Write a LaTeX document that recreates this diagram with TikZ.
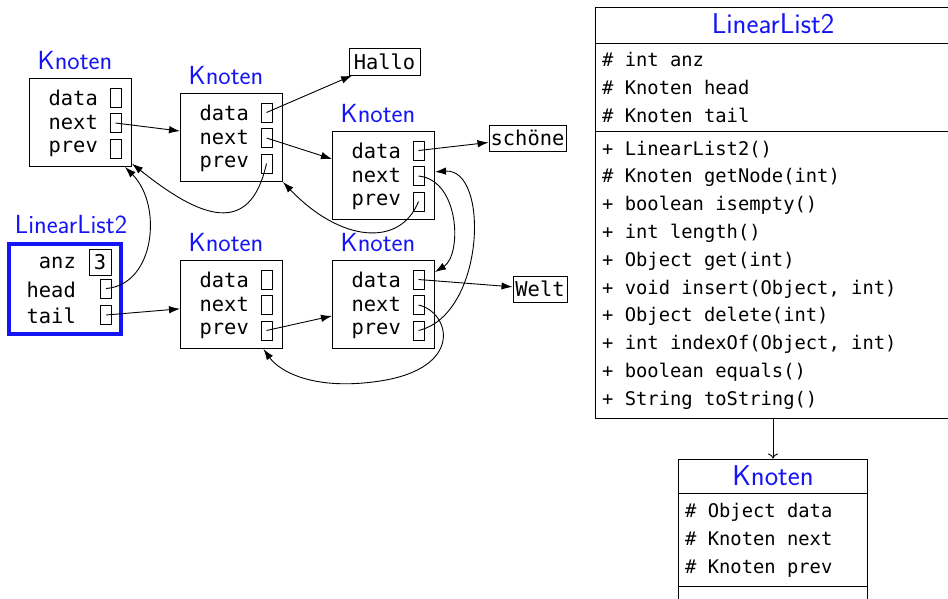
\documentclass[tikz,border=0pt]{standalone}
\usepackage{fontspec}
\newfontfamily\monofont{DejaVu Sans Mono}
\usetikzlibrary{arrows.meta}
\definecolor{titleblue}{RGB}{20,20,245}

\tikzset{
  kbox/.style={draw, line width=1pt, minimum width=102pt, minimum height=88pt, inner sep=0pt},
  ktitle/.style={anchor=base, text=titleblue, font=\fontsize{26.2}{31}\selectfont\sffamily, inner sep=0pt},
  klabel/.style={anchor=base east, font=\fontsize{20.4}{24}\selectfont\monofont, inner sep=0pt},
  slot/.style={draw, line width=0.9pt, minimum width=11pt, minimum height=19pt, inner sep=0pt},
  wordbox/.style={draw, line width=1pt, font=\fontsize{20.4}{24}\selectfont\monofont, inner sep=0pt},
  link/.style={line width=0.9pt, -{Latex[length=11pt,width=7.5pt]}},
  umlbox/.style={draw, line width=1pt, inner sep=0pt},
  umltitle/.style={anchor=base, text=titleblue, font=\fontsize{28.6}{34}\selectfont\sffamily, inner sep=0pt},
  umltext/.style={anchor=base west, font=\fontsize{18.8}{24}\selectfont\monofont, inner sep=0pt},
}

% One list node: box, caption, three fields with their slots
\newcommand\knoten[3]{%
  \begin{scope}[shift={(#2,#3)}]
    \node[kbox] (#1) at (51,44) {};
    \node[ktitle] (#1-title) at (45.5,-9.5) {Knoten};
    \node[klabel] (#1-dl) at (68.5,26.5) {data};
    \node[klabel] (#1-nl) at (68.5,51) {next};
    \node[klabel] (#1-pl) at (68.5,73.5) {prev};
    \node[slot] (#1-d) at (86,19) {};
    \node[slot] (#1-n) at (86,44.5) {};
    \node[slot] (#1-p) at (86,70) {};
  \end{scope}}

\begin{document}
\begin{tikzpicture}[x=1pt,y=-1pt]
\useasboundingbox (0,0) rectangle (948,598);
\clip (0,0) rectangle (948,598);

% list nodes
\knoten{k1}{29.5}{78.5}
\knoten{k2}{180.5}{93.5}
\knoten{k3}{332.5}{131.5}
\knoten{k4}{180.5}{260.5}
\knoten{k5}{332.5}{260.5}

% data objects
\node[wordbox, minimum width=71pt, minimum height=27pt] (hallo) at (384.5,61.5) {Hallo};
\node[wordbox, minimum width=77pt, minimum height=26pt] (schoene) at (527.5,138) {schöne};
\node[wordbox, minimum width=54pt, minimum height=26pt] (welt) at (540,289) {Welt};

% list object
\node[draw=titleblue, line width=4pt, minimum width=112pt, minimum height=90pt, inner sep=0pt] (ll) at (65.4,288.9) {};
\node[ktitle] (ll-title) at (71,233) {LinearList2};
\node[klabel] (ll-al) at (76,268) {anz};
\node[klabel] (ll-hl) at (76,297) {head};
\node[klabel] (ll-tl) at (76,323) {tail};
\node[draw, line width=1pt, minimum width=22pt, minimum height=26pt, inner sep=0pt,
      font=\fontsize{20.4}{24}\selectfont\monofont] (ll-a) at (100,262) {3};
\node[slot] (ll-h) at (106,288.5) {};
\node[slot] (ll-t) at (106,315) {};

% references
\draw[link] (k1-n.center) -- (k2);
\draw[link] (k2-d.center) -- (hallo);
\draw[link] (k2-n.center) -- (k3);
\draw[link] (k2-p.center) .. controls (250,238) and (200,218) .. (k1);
\draw[link] (k3-d.center) -- (schoene);
\draw[link] (k3-p.center) .. controls (400,248) and (340,242) .. (k2.south east);
\draw[link] (k3-n.center) .. controls (460,180) and (462,255) .. (k5);
\draw[link] (k5-p.center) .. controls (485,315) and (490,168) .. (k3);
\draw[link] (k5-d.center) -- (welt);
\coordinate (loop) at (380,381);
\draw[link] (k5-n.center) .. controls (450,312) and (465,368) .. (loop)
            .. controls (315,391) and (280,372) .. (k4);
\draw[link] (k4-p.center) -- (k5);
\draw[link] (ll-t.center) -- (k4);
\draw[link] (ll-h.center) .. controls (155,285) and (163,205) .. (k1);

% class LinearList2
\node[umlbox, minimum width=356pt, minimum height=411pt] (ul) at (773,212.5) {};
\draw[line width=1pt] (595,43) -- (951,43);
\draw[line width=1pt] (595,131) -- (951,131);
\node[umltitle] (ul-title) at (773,33) {LinearList2};
\node[umltext] (ul-a1) at (602,66.5) {\# int anz};
\node[umltext] (ul-a2) at (602,94.5) {\# Knoten head};
\node[umltext] (ul-a3) at (602,122.5) {\# Knoten tail};
\foreach \txt [count=\i from 0] in {%
  + LinearList2(), \# Knoten getNode(int), + boolean isempty(), + int length(),
  + Object get(int), {+ void insert(Object, int)}, + Object delete(int),
  {+ int indexOf(Object, int)}, + boolean equals(), + String toString()}
  \node[umltext] (ul-m\i) at (602,155+27.8*\i) {\txt};

% class Knoten
\node[umlbox, minimum width=189pt, minimum height=161pt] (uk) at (773,539.5) {};
\draw[line width=1pt] (678.5,493) -- (867.5,493);
\draw[line width=1pt] (678.5,586) -- (867.5,586);
\node[umltitle] (uk-title) at (773,485) {Knoten};
\node[umltext] (uk-a1) at (685,517) {\# Object data};
\node[umltext] (uk-a2) at (685,545) {\# Knoten next};
\node[umltext] (uk-a3) at (685,573) {\# Knoten prev};

\draw[line width=0.9pt, -{To[length=5pt,width=10pt]}] (ul.south) -- (uk.north);
\end{tikzpicture}
\end{document}
